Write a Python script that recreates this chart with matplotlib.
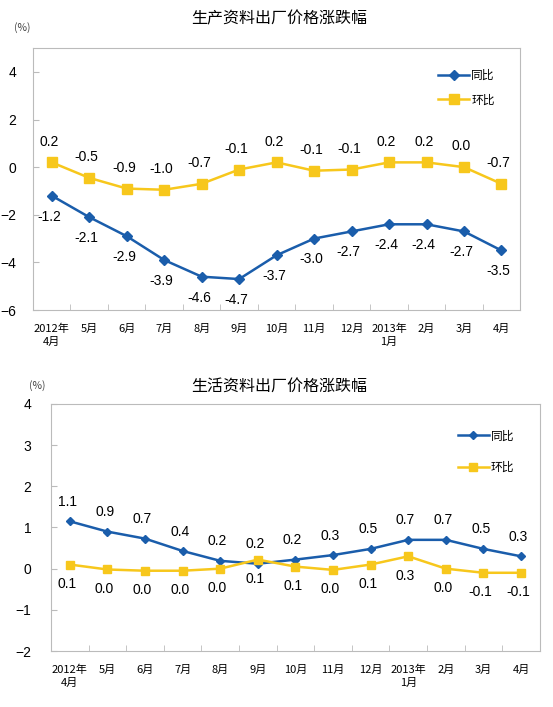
import matplotlib
matplotlib.use("Agg")
import matplotlib.pyplot as plt

plt.rcParams["font.family"] = ["Liberation Sans", "Noto Sans CJK SC", "DejaVu Sans"]

months = ["2012年\n4月", "5月", "6月", "7月", "8月", "9月", "10月", "11月",
          "12月", "2013年\n1月", "2月", "3月", "4月"]

# 生产资料
prod_yoy = [-1.2, -2.1, -2.9, -3.9, -4.6, -4.7, -3.7, -3.0, -2.7, -2.4, -2.4, -2.7, -3.5]
prod_mom = [0.2, -0.45, -0.9, -0.95, -0.7, -0.1, 0.2, -0.15, -0.1, 0.2, 0.2, 0.0, -0.7]
prod_yoy_lbl = ["-1.2", "-2.1", "-2.9", "-3.9", "-4.6", "-4.7", "-3.7", "-3.0", "-2.7",
                "-2.4", "-2.4", "-2.7", "-3.5"]
prod_mom_lbl = ["0.2", "-0.5", "-0.9", "-1.0", "-0.7", "-0.1", "0.2", "-0.1", "-0.1",
                "0.2", "0.2", "0.0", "-0.7"]

# 生活资料
life_yoy = [1.15, 0.9, 0.73, 0.43, 0.19, 0.12, 0.22, 0.33, 0.48, 0.7, 0.7, 0.48, 0.3]
life_mom = [0.1, -0.02, -0.05, -0.05, 0.0, 0.22, 0.05, -0.03, 0.1, 0.3, 0.0, -0.1, -0.1]
life_yoy_lbl = ["1.1", "0.9", "0.7", "0.4", "0.2", "0.2", "0.2", "0.3", "0.5", "0.7",
                "0.7", "0.5", "0.3"]
life_mom_lbl = ["0.1", "0.0", "0.0", "0.0", "0.0", "0.1", "0.1", "0.0", "0.1", "0.3",
                "0.0", "-0.1", "-0.1"]

BLUE = "#1A5DAB"
YELLOW = "#F7C71C"
GRAY = "#BBBBBB"
CJK = ["Noto Sans CJK SC", "DejaVu Sans"]

fig = plt.figure(figsize=(5.53, 7.07), dpi=100)


def draw(rect, yoy, mom, yoy_lbl, mom_lbl, ylim, yticks, title, title_y, pct_xy,
         yoy_off, mom_off, leg_y, leg_sp, ypad, msize):
    ax = fig.add_axes(rect)
    x = list(range(len(months)))
    ax.plot(x, yoy, color=BLUE, lw=1.8, marker="D", markersize=msize - 1.5, label="同比")
    ax.plot(x, mom, color=YELLOW, lw=1.8, marker="s", markersize=msize, label="环比")
    for i in x:
        ax.annotate(yoy_lbl[i], (i, yoy[i]), textcoords="offset points", xytext=(-2, yoy_off),
                    ha="center", va="center", fontsize=10)
        ax.annotate(mom_lbl[i], (i, mom[i]), textcoords="offset points", xytext=(-2, mom_off),
                    ha="center", va="center", fontsize=10)
    ax.set_xlim(-0.5, len(months) - 0.5)
    ax.set_ylim(*ylim)
    ax.set_yticks(yticks)
    ax.set_xticks(x)
    ax.set_xticklabels(months, fontsize=8, family=CJK, linespacing=1.35)
    ax.set_xticks([i + 0.5 for i in x[:-1]], minor=True)
    ax.tick_params(axis="x", which="major", length=0, pad=10)
    ax.tick_params(axis="x", which="minor", direction="in", length=4, color=GRAY)
    ax.tick_params(axis="y", direction="in", length=4, color=GRAY, labelsize=10, pad=ypad)
    for s in ax.spines.values():
        s.set_color(GRAY)
    ax.legend(loc="upper right", bbox_to_anchor=(0.97, leg_y), frameon=False,
              prop={"family": CJK, "size": 8.5}, handlelength=2.6, labelspacing=leg_sp,
              handletextpad=0.2)
    fig.text(0.505, title_y, title, ha="center", va="center", fontsize=11.5, family=CJK)
    fig.text(pct_xy[0], pct_xy[1], "(%)", ha="center", va="center", fontsize=7.5,
             family=CJK, color="#444444")
    return ax


draw([0.0597, 0.5615, 0.881, 0.3705], prod_yoy, prod_mom, prod_yoy_lbl, prod_mom_lbl,
     (-6, 5), [-6, -4, -2, 0, 2, 4], "生产资料出厂价格涨跌幅", 1 - 19 / 707,
     (22 / 553, 1 - 28 / 707), -15, 15, 0.96, 0.95, 12, 7)
draw([0.0922, 0.0792, 0.884, 0.3494], life_yoy, life_mom, life_yoy_lbl, life_mom_lbl,
     (-2, 4), [-2, -1, 0, 1, 2, 3, 4], "生活资料出厂价格涨跌幅", 1 - 386 / 707,
     (37 / 553, 1 - 386 / 707), 14, -14, 0.94, 1.55, 14, 6)

fig.savefig("out.png", dpi=100)
